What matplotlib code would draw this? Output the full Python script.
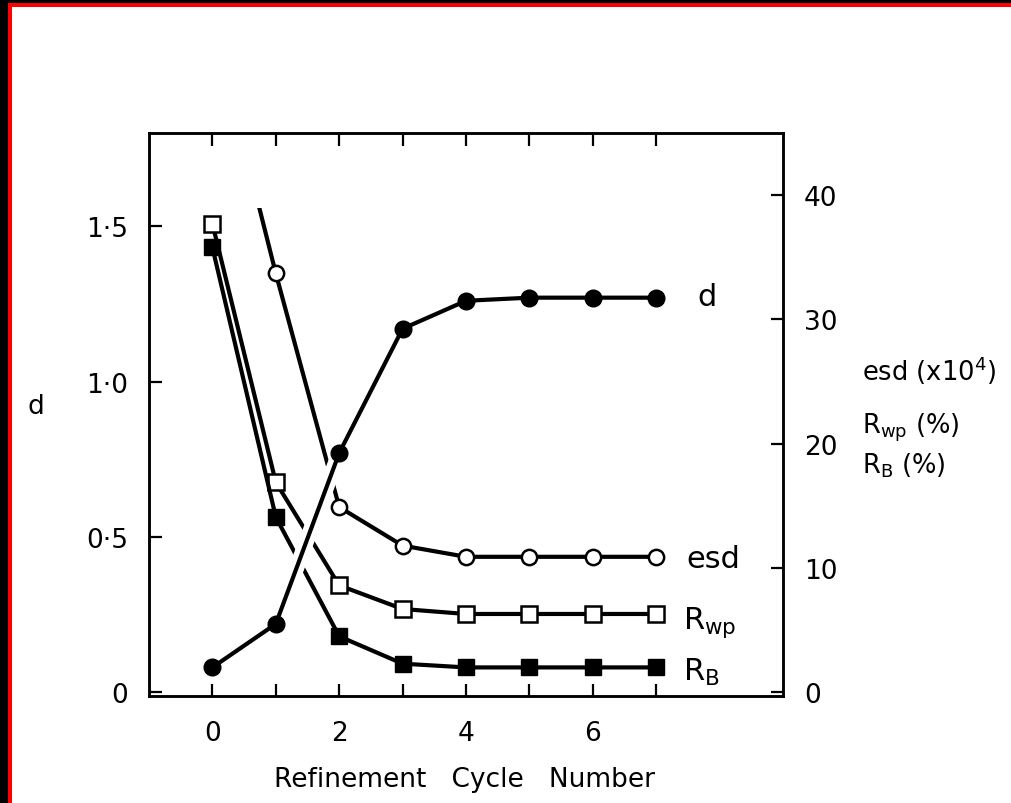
import matplotlib
matplotlib.use('Agg')
import matplotlib.pyplot as plt
import matplotlib.patheffects as pe
from matplotlib.patches import Rectangle

# refinement cycles
cycle = [0, 1, 2, 3, 4, 5, 6, 7]

# d (left scale)
d_val = [0.08, 0.22, 0.77, 1.17, 1.26, 1.27, 1.27, 1.27]

# right scale: esd (x10^4), Rwp (%), RB (%)
# esd at cycle 0 is off the top of the plot, only a stub of its line shows
esd_val = [54.0, 33.7, 14.9, 11.8, 10.9, 10.9, 10.9, 10.9]
rwp_val = [37.7, 16.9, 8.6, 6.7, 6.3, 6.3, 6.3, 6.3]
rb_val = [35.8, 14.1, 4.5, 2.3, 2.0, 2.0, 2.0, 2.0]

x_ticks = [0, 1, 2, 3, 4, 5, 6, 7]
x_labels = ['0', '', '2', '', '4', '', '6', '']
d_ticks = [0, 0.5, 1.0, 1.5]
d_labels = ['0', '0·5', '1·0', '1·5']
r_ticks = [0, 10, 20, 30, 40]
r_labels = ['0', '10', '20', '30', '40']

W, H = 1012, 804
plt.rcParams['font.family'] = ['DejaVu Sans']

fig = plt.figure(figsize=(W / 100, H / 100), dpi=100)
fig.patch.set_facecolor('white')

# black / red edge along the top and left
fig.add_artist(Rectangle((0, 0), 8 / W, 1, transform=fig.transFigure, color='black', lw=0))
fig.add_artist(Rectangle((0, 1 - 4 / H), 1, 4 / H, transform=fig.transFigure, color='black', lw=0))
fig.add_artist(Rectangle((8 / W, 0), 4 / W, 1 - 4 / H, transform=fig.transFigure, color='red', lw=0))
fig.add_artist(Rectangle((8 / W, 1 - 7.5 / H), 1, 3.5 / H, transform=fig.transFigure, color='red', lw=0))

ax = fig.add_axes([149 / W, 1 - 697 / H, (783 - 149) / W, (697 - 134) / H])
ax2 = ax.twinx()
ax.set_zorder(2)
ax2.set_zorder(1)
ax.patch.set_visible(False)
ax2.patch.set_visible(False)

lw = 3.0
ms = 11

# right-scale series
esd_line, = ax2.plot(cycle, esd_val, color='black', lw=lw, zorder=2)
esd_line.set_clip_path(Rectangle((-1, -1), 10, 40, transform=ax2.transData))
ax2.plot(cycle[1:], esd_val[1:], ls='none', marker='o', ms=ms, mfc='white', mec='black', mew=1.8, zorder=3)
ax2.plot(cycle, rwp_val, color='black', lw=lw, marker='s', ms=ms, mfc='white', mec='black', mew=1.8, zorder=3)
ax2.plot(cycle, rb_val, color='black', lw=lw, marker='s', ms=ms, mfc='black', mec='black', zorder=4)

# d on top, with a white casing so the lines it crosses are broken
ax.plot(cycle, d_val, color='black', lw=lw, zorder=2,
        path_effects=[pe.Stroke(linewidth=11, foreground='white'), pe.Normal()])
ax.plot(cycle, d_val, ls='none', marker='o', ms=ms + 1, mfc='black', mec='black', zorder=3)

ax.set_xlim(-1, 9)
ax.set_ylim(-0.012, 1.8)
ax2.set_ylim(-0.3, 45)

ax.set_xticks(x_ticks)
ax.set_xticklabels(x_labels)
ax.set_yticks(d_ticks)
ax.set_yticklabels(d_labels)
ax2.set_yticks(r_ticks)
ax2.set_yticklabels(r_labels)

ax.tick_params(axis='x', direction='in', top=True, length=9, width=1.6, labelsize=19, pad=17)
ax.tick_params(axis='y', direction='in', length=9, width=1.6, labelsize=19, pad=15)
ax2.tick_params(axis='y', direction='in', length=9, width=1.6, labelsize=19, pad=15)
for a in (ax, ax2):
    for s in a.spines.values():
        s.set_linewidth(1.8)

# series names beside the last points
ax.annotate('d', xy=(cycle[-1], d_val[-1]), xytext=(30, -5), textcoords='offset points',
            fontsize=22, va='baseline', ha='left')
ax2.annotate('esd', xy=(cycle[-1], esd_val[-1]), xytext=(22, -7), textcoords='offset points',
             fontsize=22, va='baseline', ha='left')
ax2.annotate(r'R$\mathregular{_{wp}}$', xy=(cycle[-1], rwp_val[-1]), xytext=(19, -10),
             textcoords='offset points', fontsize=22, va='baseline', ha='left')
ax2.annotate(r'R$\mathregular{_{B}}$', xy=(cycle[-1], rb_val[-1]), xytext=(19, -9),
             textcoords='offset points', fontsize=22, va='baseline', ha='left')

# axis titles
fig.text(36 / W, 1 - 407 / H, 'd', fontsize=19, ha='center', va='center')
fig.text(862 / W, 1 - 381 / H, r'esd (x10$\mathregular{^4}$)', fontsize=18.5, ha='left', va='baseline')
fig.text(862 / W, 1 - 434 / H, r'R$\mathregular{_{wp}}$ (%)', fontsize=18.5, ha='left', va='baseline')
fig.text(862 / W, 1 - 474 / H, r'R$\mathregular{_{B}}$ (%)', fontsize=18.5, ha='left', va='baseline')
fig.text(465 / W, 1 - 780 / H, 'Refinement   Cycle   Number', fontsize=19, ha='center', va='center')

fig.savefig('out.png', dpi=100, facecolor='white')
